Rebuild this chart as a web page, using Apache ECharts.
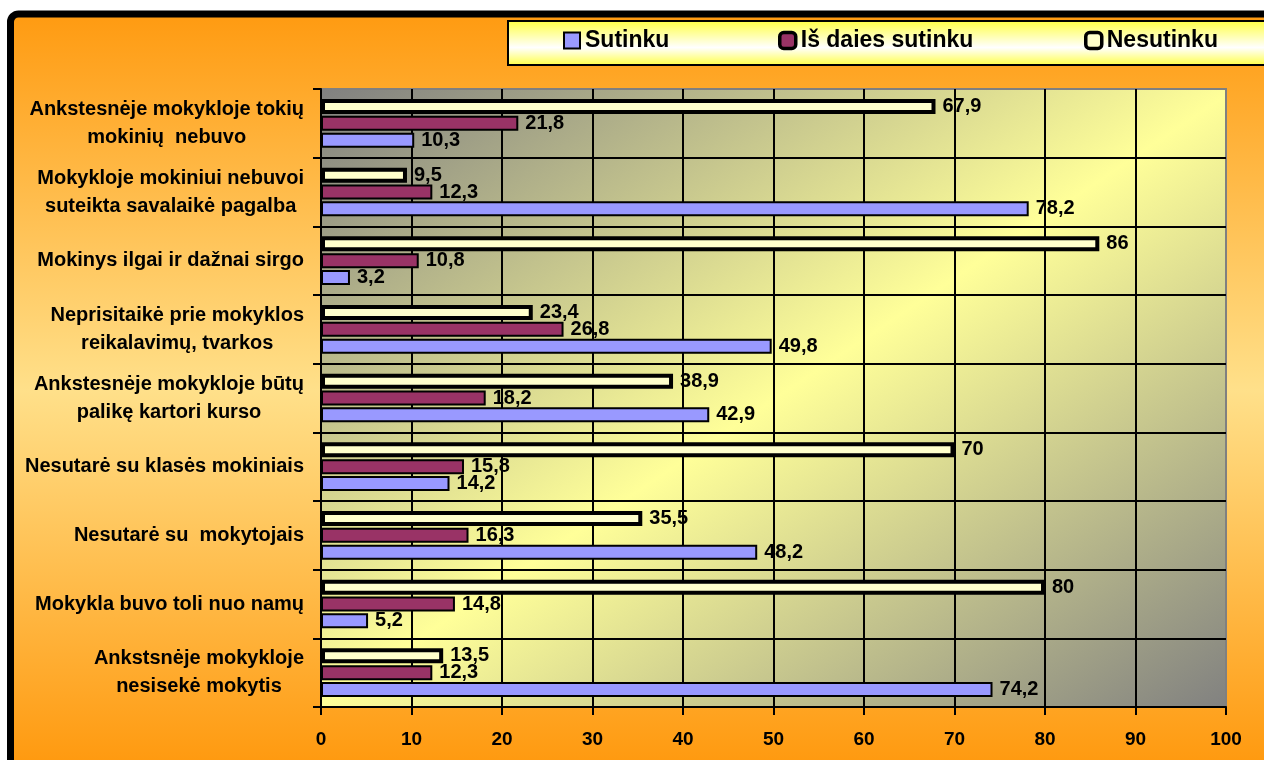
<!DOCTYPE html>
<html><head><meta charset="utf-8">
<script src="https://cdn.jsdelivr.net/npm/echarts@6/dist/echarts.min.js"></script>
<style>html,body{margin:0;padding:0;background:#fff}#c{width:1264px;height:760px}</style>
</head><body><div id="c"></div>
<script>
// Categories listed top to bottom as in the picture
const categories = [
  'Ankstesnėje mokykloje tokių\nmokinių  nebuvo',
  'Mokykloje mokiniui nebuvoi\nsuteikta savalaikė pagalba',
  'Mokinys ilgai ir dažnai sirgo',
  'Neprisitaikė prie mokyklos\nreikalavimų, tvarkos',
  'Ankstesnėje mokykloje būtų\npalikę kartori kurso',
  'Nesutarė su klasės mokiniais',
  'Nesutarė su  mokytojais',
  'Mokykla buvo toli nuo namų',
  'Ankstsnėje mokykloje\nnesisekė mokytis'
];
const seriesNames = ['Sutinku', 'Iš daies sutinku', 'Nesutinku'];
const sutinku   = [10.3, 78.2, 3.2, 49.8, 42.9, 14.2, 48.2, 5.2, 74.2];
const isDaies   = [21.8, 12.3, 10.8, 26.8, 18.2, 15.8, 16.3, 14.8, 12.3];
const nesutinku = [67.9, 9.5, 86, 23.4, 38.9, 70, 35.5, 80, 13.5];
const xMin = 0, xMax = 100, xInterval = 10;

const FONT = '"Liberation Sans", Arial, Helvetica, sans-serif';
const rev = a => a.slice().reverse();
const fmt = p => String(p.value).replace('.', ',');

const chart = echarts.init(document.getElementById('c'), null, {renderer: 'canvas'});

const valueLabel = {
  show: true, position: 'right', distance: 7, formatter: fmt,
  fontSize: 20, fontWeight: 'bold', color: '#000', fontFamily: FONT
};

const legendBase = {
  orient: 'horizontal', top: 29, padding: 0, itemWidth: 16, itemHeight: 16,
  selectedMode: false,
  textStyle: {fontSize: 23, fontWeight: 'bold', color: '#000', fontFamily: FONT}
};

const BW = 15, GAP = '12%';

chart.setOption({
  animation: false,
  backgroundColor: '#ffffff',
  textStyle: {fontFamily: FONT},
  graphic: [
    {
      type: 'rect', z: -10,
      shape: {x: 10.5, y: 14, width: 1300, height: 800, r: 8},
      style: {
        fill: new echarts.graphic.LinearGradient(0, 0, 0, 1, [
          {offset: 0, color: '#ff9a10'},
          {offset: 0.47, color: '#ffe08a'},
          {offset: 0.93, color: '#ff9a10'},
          {offset: 1, color: '#ff9a10'}
        ]),
        stroke: '#000', lineWidth: 7
      }
    },
    {
      type: 'rect', z: -5,
      shape: {x: 508, y: 21, width: 800, height: 44},
      style: {
        fill: new echarts.graphic.LinearGradient(0, 0, 0, 1, [
          {offset: 0, color: '#ffff40'},
          {offset: 0.6, color: '#ffffff'},
          {offset: 1, color: '#ffff40'}
        ]),
        stroke: '#000', lineWidth: 2
      }
    }
  ],
  legend: [
    Object.assign({}, legendBase, {left: 563, data: [{name: seriesNames[0], icon: 'rect',
      itemStyle: {color: '#9999ff', borderColor: '#000', borderWidth: 2}}]}),
    Object.assign({}, legendBase, {left: 778, data: [{name: seriesNames[1], icon: 'roundRect',
      itemStyle: {color: '#993366', borderColor: '#000', borderWidth: 3.5}}]}),
    Object.assign({}, legendBase, {left: 1084, data: [{name: seriesNames[2], icon: 'roundRect',
      itemStyle: {color: '#ffffcc', borderColor: '#000', borderWidth: 3.5}}]})
  ],
  grid: {
    left: 321, right: 38, top: 89, bottom: 53,
    outerBoundsMode: 'none',
    show: true,
    backgroundColor: new echarts.graphic.LinearGradient(0, 0, 0.63, 1.37, [
      {offset: 0, color: '#808080'},
      {offset: 0.5, color: '#ffff99'},
      {offset: 1, color: '#808080'}
    ]),
    borderColor: '#808080', borderWidth: 2
  },
  xAxis: {
    type: 'value', min: xMin, max: xMax, interval: xInterval,
    axisLine: {show: true, lineStyle: {color: '#000', width: 2}},
    axisTick: {show: true, length: 8, lineStyle: {color: '#000', width: 2}},
    axisLabel: {margin: 23, fontSize: 19, fontWeight: 'bold', color: '#000', fontFamily: FONT},
    splitLine: {show: true, showMaxLine: false, lineStyle: {color: '#000', width: 2}}
  },
  yAxis: {
    type: 'category', data: rev(categories),
    axisLine: {show: true, lineStyle: {color: '#000', width: 2}},
    axisTick: {show: true, length: 8, lineStyle: {color: '#000', width: 2}},
    axisLabel: {
      margin: 17, color: '#000',
      formatter: v => v.split('\n').map(l => '{c|' + l + '}').join('\n'),
      rich: {c: {align: 'center', fontSize: 20, fontWeight: 'bold', color: '#000', lineHeight: 28, fontFamily: FONT}}
    },
    splitLine: {show: true, showMaxLine: false, lineStyle: {color: '#000', width: 2}}
  },
  series: [
    {
      name: seriesNames[2], type: 'bar', data: rev(nesutinku), barWidth: BW, barGap: GAP,
      itemStyle: {color: '#ffffcc', borderColor: '#000', borderWidth: 4},
      label: valueLabel
    },
    {
      name: seriesNames[1], type: 'bar', data: rev(isDaies), barWidth: BW, barGap: GAP,
      itemStyle: {color: '#993366', borderColor: '#000', borderWidth: 2},
      label: valueLabel
    },
    {
      name: seriesNames[0], type: 'bar', data: rev(sutinku), barWidth: BW, barGap: GAP,
      itemStyle: {color: '#9999ff', borderColor: '#000', borderWidth: 2},
      label: valueLabel
    }
  ]
});
</script>
</body></html>
